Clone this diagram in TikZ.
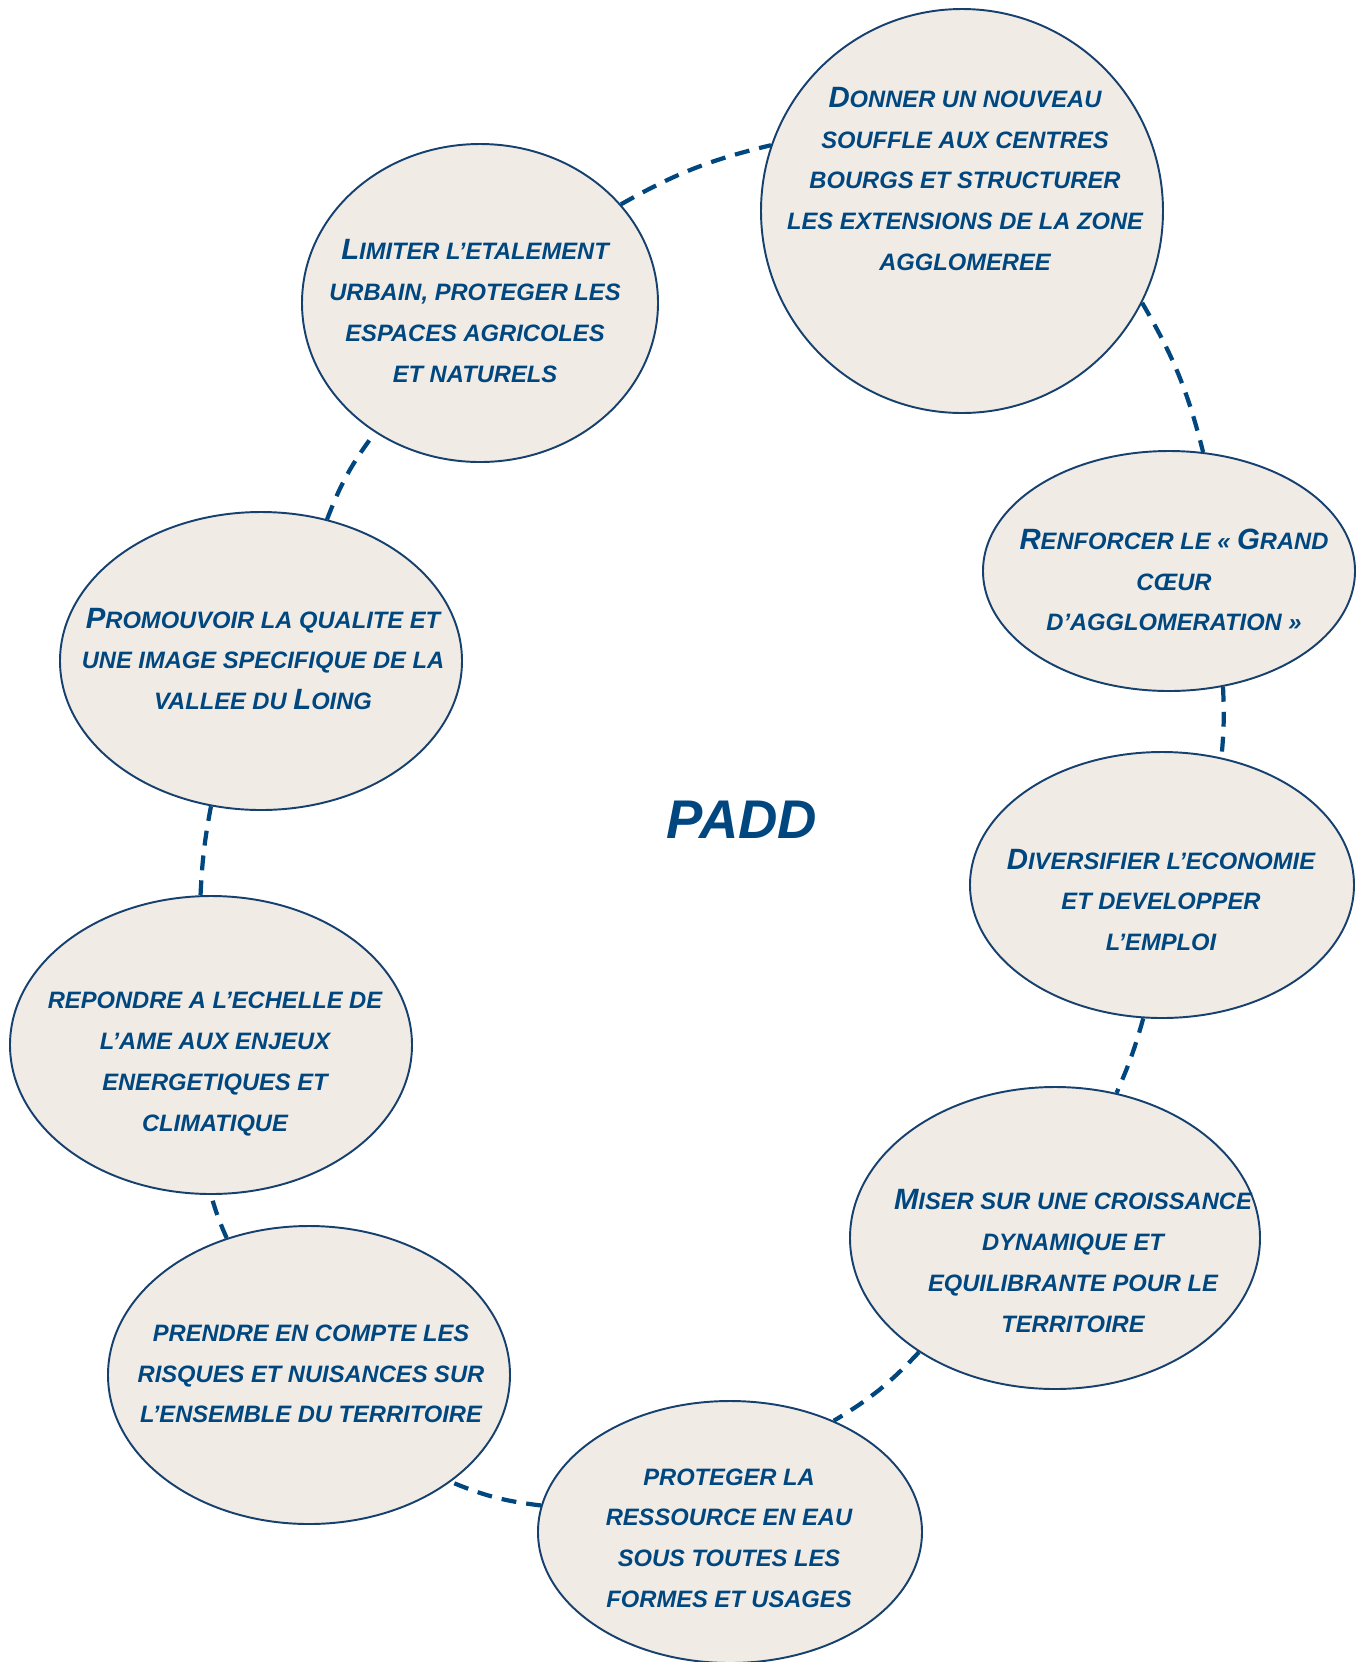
\documentclass[tikz,border=0pt]{standalone}
\usepackage{fontspec}
\setmainfont{Liberation Sans}
\usetikzlibrary{shapes.geometric}

\definecolor{paddblue}{RGB}{0,70,127}
\definecolor{rimblue}{RGB}{22,64,110}
\definecolor{beige}{RGB}{240,235,229}

% larger first letter of the small caps
\newcommand{\Ini}[1]{{\fontsize{16.7}{23.2}\selectfont #1}}

\begin{document}
\begin{tikzpicture}[
    goal/.style={ellipse, draw=rimblue, line width=1.1pt, fill=beige, inner sep=0pt},
    goaltext/.style={align=center, text=paddblue, font=\fontsize{13.5}{23.2}\selectfont\bfseries\itshape},
    link/.style={draw=paddblue, line width=2.4pt, dash pattern=on 8.5pt off 5.7pt}
]
\useasboundingbox (0,0) rectangle (27.14,-33.24);

% Ellipses
\node[goal, minimum width=8.04cm, minimum height=8.08cm] (donner) at (19.24,-4.22) {};
\node[goal, minimum width=7.12cm, minimum height=6.36cm] (limiter) at (9.60,-6.06) {};
\node[goal, minimum width=7.44cm, minimum height=4.80cm] (renforcer) at (23.38,-11.42) {};
\node[goal, minimum width=8.04cm, minimum height=5.96cm] (promouvoir) at (5.22,-13.22) {};
\node[goal, minimum width=7.68cm, minimum height=5.32cm] (diversifier) at (23.24,-17.70) {};
\node[goal, minimum width=8.04cm, minimum height=5.96cm] (repondre) at (4.22,-20.90) {};
\node[goal, minimum width=8.20cm, minimum height=6.04cm] (miser) at (21.10,-24.76) {};
\node[goal, minimum width=8.04cm, minimum height=5.96cm] (prendre) at (6.18,-27.50) {};
\node[goal, minimum width=7.68cm, minimum height=5.24cm] (proteger) at (14.60,-30.64) {};

% Dashed ring
\draw[link] (limiter.35.5) to[bend left=8] (donner.161.7);
\draw[link] (donner.-27.3) to[bend left=8] (renforcer.74.3);
\draw[link] (renforcer.-65.2) to[bend left=4] (diversifier.65.3);
\draw[link] (diversifier.262) to[bend left=4] (miser.67.9);
\draw[link] (miser.220) to[bend left=8] (proteger.47.1);
\draw[link] (proteger.172.7) to[bend left=8] (prendre.-37.7);
\draw[link] (prendre.121) to[bend left=4] (repondre.270);
\draw[link] (repondre.94.5) to[bend left=4] (promouvoir.251.5);
\draw[link] (promouvoir.65.9) to[bend left=8] (limiter.231.5);

% Texts
\node[goaltext] (donner-t) at (19.30,-3.58) {\Ini{D}ONNER UN NOUVEAU\\SOUFFLE AUX CENTRES\\BOURGS ET STRUCTURER\\LES EXTENSIONS DE LA ZONE\\AGGLOMEREE};
\node[goaltext] (limiter-t) at (9.50,-6.22) {\Ini{L}IMITER L’ETALEMENT\\URBAIN, PROTEGER LES\\ESPACES AGRICOLES\\ET NATURELS};
\node[goaltext] (renforcer-t) at (23.48,-11.60) {\Ini{R}ENFORCER LE « \Ini{G}RAND\\CŒUR\\D’AGGLOMERATION »};
\node[goaltext] (promouvoir-t) at (5.26,-13.18) {\Ini{P}ROMOUVOIR LA QUALITE ET\\UNE IMAGE SPECIFIQUE DE LA\\VALLEE DU \Ini{L}OING};
\node[goaltext] (diversifier-t) at (23.22,-18.00) {\Ini{D}IVERSIFIER L’ECONOMIE\\ET DEVELOPPER\\L’EMPLOI};
\node[goaltext] (repondre-t) at (4.30,-21.28) {REPONDRE A L’ECHELLE DE\\L’AME AUX ENJEUX\\ENERGETIQUES ET\\CLIMATIQUE};
\node[goaltext] (miser-t) at (21.46,-25.22) {\Ini{M}ISER SUR UNE CROISSANCE\\DYNAMIQUE ET\\EQUILIBRANTE POUR LE\\TERRITOIRE};
\node[goaltext] (prendre-t) at (6.22,-27.48) {PRENDRE EN COMPTE LES\\RISQUES ET NUISANCES SUR\\L’ENSEMBLE DU TERRITOIRE};
\node[goaltext] (proteger-t) at (14.58,-30.76) {PROTEGER LA\\RESSOURCE EN EAU\\SOUS TOUTES LES\\FORMES ET USAGES};

% Centre
\node[text=paddblue, font=\fontsize{31}{36}\selectfont\bfseries\itshape] (padd) at (14.84,-16.40) {PADD};

\end{tikzpicture}
\end{document}
